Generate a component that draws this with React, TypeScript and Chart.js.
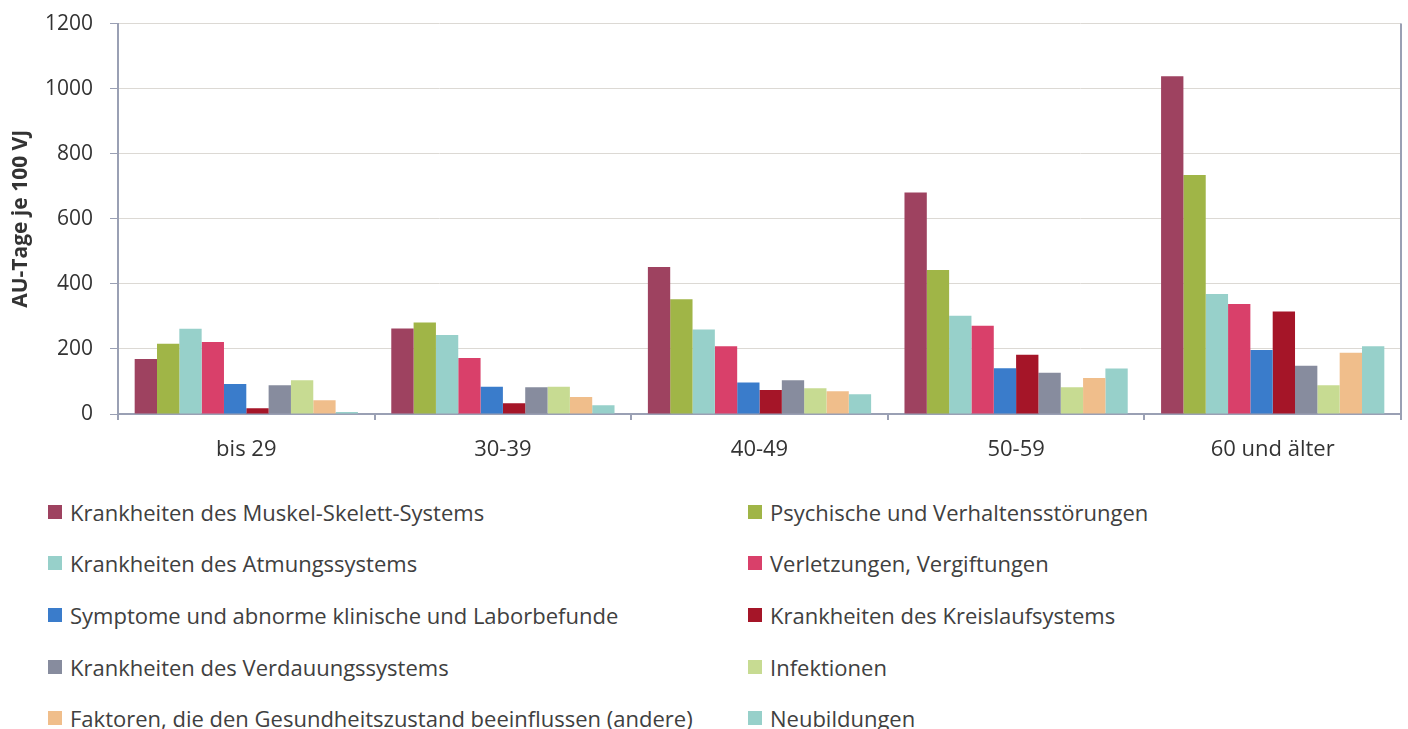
import React, { useEffect, useRef } from "react";
import { Chart, registerables } from "chart.js";

Chart.register(...registerables);

const categories = ["bis 29", "30-39", "40-49", "50-59", "60 und älter"];

const seriesLabels = [
  "Krankheiten des Muskel-Skelett-Systems",
  "Psychische und Verhaltensstörungen",
  "Krankheiten des Atmungssystems",
  "Verletzungen, Vergiftungen",
  "Symptome und abnorme klinische und Laborbefunde",
  "Krankheiten des Kreislaufsystems",
  "Krankheiten des Verdauungssystems",
  "Infektionen",
  "Faktoren, die den Gesundheitszustand beeinflussen (andere)",
  "Neubildungen",
];

const seriesColors = [
  "#9e4260",
  "#a0b547",
  "#97d0ca",
  "#d9406a",
  "#3a7ccb",
  "#a51528",
  "#878c9e",
  "#c7db92",
  "#f0be8b",
  "#97d0ca",
];

const muskelSkelett = [169, 263, 452, 681, 1038];
const psychisch = [216, 281, 353, 443, 735];
const atmung = [262, 243, 260, 302, 369];
const verletzungen = [221, 172, 208, 271, 338];
const symptome = [92, 84, 97, 141, 197];
const kreislauf = [18, 33, 74, 182, 315];
const verdauung = [88, 82, 104, 127, 148];
const infektionen = [104, 84, 79, 82, 88];
const faktoren = [42, 52, 70, 111, 188];
const neubildungen = [6, 27, 61, 140, 208];

const seriesValues = [
  muskelSkelett,
  psychisch,
  atmung,
  verletzungen,
  symptome,
  kreislauf,
  verdauung,
  infektionen,
  faktoren,
  neubildungen,
];

const yMin = 0;
const yMax = 1200;
const yStep = 200;
const yTitle = "AU-Tage je 100 VJ";

const FONT = "'Open Sans', 'Noto Sans', sans-serif";
const AXIS = "#9aa0b4";

const frameRight = {
  id: "frameRight",
  afterDraw(chart: any) {
    const { ctx, chartArea } = chart;
    ctx.save();
    ctx.strokeStyle = AXIS;
    ctx.lineWidth = 2;
    ctx.beginPath();
    ctx.moveTo(chartArea.right, chartArea.top);
    ctx.lineTo(chartArea.right, chartArea.bottom);
    ctx.stroke();
    ctx.restore();
  },
};

export default function App() {
  const canvasRef = useRef<HTMLCanvasElement | null>(null);

  useEffect(() => {
    if (!canvasRef.current) return;
    const chart = new Chart(canvasRef.current, {
      type: "bar",
      data: {
        labels: categories,
        datasets: seriesLabels.map((label, i) => ({
          label,
          data: seriesValues[i],
          backgroundColor: seriesColors[i],
          borderWidth: 0,
          categoryPercentage: 0.87,
          barPercentage: 1,
        })),
      },
      options: {
        animation: false,
        responsive: true,
        maintainAspectRatio: false,
        layout: { padding: { top: 16, right: 7, left: 0, bottom: 0 } },
        plugins: {
          legend: { display: false },
          tooltip: { enabled: false },
        },
        scales: {
          x: {
            offset: true,
            grid: {
              display: true,
              drawOnChartArea: false,
              drawTicks: true,
              tickLength: 6,
              color: AXIS,
              lineWidth: 2,
              offset: true,
            },
            border: { color: AXIS, width: 2 },
            ticks: {
              color: "#333",
              font: { family: FONT, size: 22 },
              padding: 17,
            },
            afterFit: (s: any) => {
              s.height = 56;
            },
          },
          y: {
            min: yMin,
            max: yMax,
            ticks: {
              stepSize: yStep,
              color: "#333",
              font: { family: FONT, size: 21 },
              padding: 17,
              callback: (v: any) => String(v),
            },
            grid: {
              color: "#dcd9d4",
              tickColor: AXIS,
              tickLength: 8,
              lineWidth: 1,
            },
            border: { color: AXIS, width: 2 },
            title: {
              display: true,
              text: yTitle,
              color: "#333",
              font: { family: FONT, size: 21, weight: "bold" },
              padding: { top: 8, bottom: 0 },
            },
            afterFit: (s: any) => {
              s.width = 118;
            },
          },
        },
      },
      plugins: [frameRight],
    });
    return () => chart.destroy();
  }, []);

  return (
    <div
      style={{
        position: "fixed",
        left: 0,
        top: 0,
        width: 1408,
        height: 729,
        overflow: "hidden",
        background: "#fff",
        fontFamily: FONT,
      }}
    >
      <div style={{ position: "absolute", left: 0, top: -6, width: 1408, height: 476 }}>
        <canvas ref={canvasRef} />
      </div>
      <div
        style={{
          position: "absolute",
          left: 48,
          top: 486,
          display: "grid",
          gridTemplateColumns: "700px 660px",
          gridAutoRows: "51.6px",
        }}
      >
        {seriesLabels.map((label, i) => (
          <div
            key={label}
            style={{
              display: "flex",
              alignItems: "center",
              height: 51.6,
              fontSize: 22,
              color: "#404040",
              whiteSpace: "nowrap",
            }}
          >
            <span
              style={{
                display: "inline-block",
                width: 14,
                height: 14,
                background: seriesColors[i],
                marginRight: 8,
                flex: "0 0 auto",
              }}
            />
            <span>{label}</span>
          </div>
        ))}
      </div>
    </div>
  );
}
